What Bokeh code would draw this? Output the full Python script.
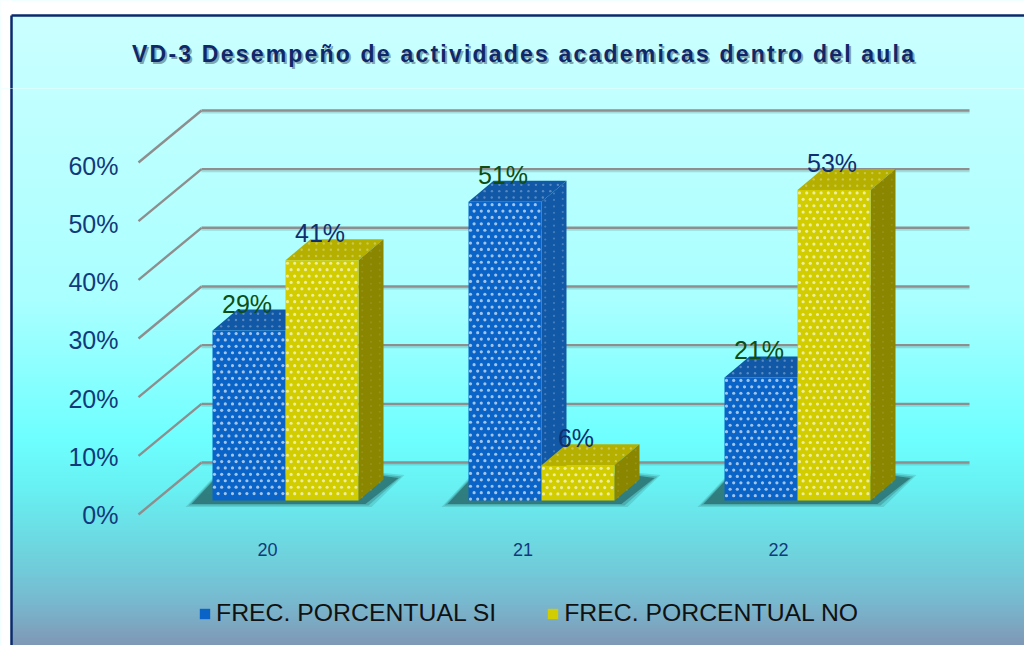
import numpy as np
from bokeh.plotting import figure
from bokeh.layouts import column
from bokeh.models import Range1d, LinearAxis, FixedTicker, Legend, LegendItem
from bokeh.core.properties import value
from bokeh.embed import file_html
from bokeh.resources import INLINE

categories = [20, 21, 22]
si_values = [29, 51, 21]
no_values = [41, 6, 53]
series_names = ["FREC. PORCENTUAL SI", "FREC. PORCENTUAL NO"]
axis_ticks = [0, 10, 20, 30, 40, 50, 60]
title_text = "VD-3 Desempeño de actividades academicas dentro del aula"

W, H = 1024, 645
TOP = 88
def X(px): return 20 + (np.asarray(px, float) - 285) / 256
def Y(py): return (500 - np.asarray(py, float)) / 5.86
def PX(x): return 285 + 256 * (np.asarray(x, float) - 20)
def PY(v): return 500 - 5.86 * np.asarray(v, float)

stops_y = [15, 300, 440, 490, 560, 600, 645]
stops_c = [(203, 255, 255), (170, 255, 255), (110, 255, 255), (104, 240, 242),
           (112, 208, 220), (120, 186, 208), (128, 152, 182)]
def color_at(y):
    return "#%02x%02x%02x" % tuple(int(np.interp(y, stops_y, [c[i] for c in stops_c])) for i in range(3))
def strips(y0, y1):
    ys = np.arange(y0, y1, 3)
    return ys, [color_at(y + 1.5) for y in ys]
SEAM = color_at(TOP)

# ---------- top band with the title ----------
t = figure(width=W, height=TOP, output_backend="svg", toolbar_location=None,
           x_range=Range1d(float(X(0)), float(X(W))), y_range=Range1d(float(Y(TOP)), float(Y(0))),
           min_border=0, outline_line_color=None, border_fill_color=SEAM,
           background_fill_color=SEAM, x_axis_type=None, y_axis_type=None,
           styles={"letter-spacing": "2.2px"})
t.grid.visible = False
ys, cols = strips(15, TOP)
t.quad(left=float(X(11)), right=float(X(W)), top=Y(ys), bottom=Y(ys + 4), fill_color=cols, line_color=None)
t.quad(left=float(X(-2)), right=float(X(W + 2)), top=float(Y(-2)), bottom=float(Y(15)), fill_color="white", line_color=None)
t.quad(left=float(X(-2)), right=float(X(11)), top=float(Y(-2)), bottom=float(Y(TOP + 2)), fill_color="white", line_color=None)
t.line(X([11, 11]), Y([15, TOP + 2]), line_color="#0a2a6c", line_width=2.5)
t.line(X([11, W]), Y([15, 15]), line_color="#0a2a6c", line_width=2.5)
for dx, dy, c, a in [(2, 2.5, "#5f8090", 0.7), (0, 0, "#10286a", 1.0)]:
    t.text([float(X(462 + dx))], [float(Y(53 + dy))], text=[title_text], text_color=c, text_alpha=a,
           text_font=value("Liberation Sans"), text_font_style="bold", text_font_size="23px",
           text_align="center", text_baseline="middle")

# ---------- main chart ----------
p = figure(width=W, height=H - TOP, output_backend="svg", toolbar_location=None,
           x_range=Range1d(float(X(0)), float(X(W))), y_range=Range1d(float(Y(H)), float(Y(TOP))),
           min_border=0, outline_line_color=None, background_fill_color=SEAM,
           border_fill_color=SEAM, x_axis_type=None, y_axis_type=None)
p.grid.visible = False
ys, cols = strips(TOP, H)
p.quad(left=float(X(11)), right=float(X(W)), top=Y(ys), bottom=Y(ys + 4), fill_color=cols, line_color=None)
p.quad(left=float(X(-2)), right=float(X(11)), top=float(Y(TOP - 2)), bottom=float(Y(H + 2)), fill_color="white", line_color=None)
p.line(X([11, 11]), Y([TOP - 2, H]), line_color="#0a2a6c", line_width=2.5)

# walls
SCALE = 5.867
tk = np.array(axis_ticks, float)
back = 462 - SCALE * tk
front = 514 - SCALE * tk
p.segment(X(201), Y(back + 2), X(969), Y(back + 2), line_color="#4a7a7a", line_alpha=0.25, line_width=2)
p.segment(X(201), Y(back), X(969), Y(back), line_color="#8e8e8e", line_width=2.4)
p.segment(X(138), Y(front), X(201), Y(back), line_color="#8e8e8e", line_width=2.4)

# bars
BW = 73 / 256
DX = 25 / 256
DY = 21 / 5.86
BLUE = ("#0a64c8", "#1158a6", "#1158a6")
YEL = ("#d2cd00", "#b5b000", "#8a8600")
xc = np.array(categories, float)

for grow, a in [(7, .14), (4, .22), (1, .42)]:
    for c in xc:
        l = float(PX(c)) - 73
        r = float(PX(c)) + 73
        p.patch(X([l - 20 - grow, r + 6 + grow, r + 39 + grow, r + 25, l + 5]),
                Y([503 + grow / 2, 503 + grow / 2, 478 - grow / 2, 476 - grow / 2, 476 - grow / 2]),
                fill_color="#0c3838", fill_alpha=a, line_color=None)

def dots(x0, x1, y0, y1, sx=7.2, sy=6.4):
    xs, yy = [], []
    for j, yv in enumerate(np.arange(y0 + 3, y1 - 1, sy)):
        for xv in np.arange(x0 + 2 + (j % 2) * sx / 2, x1 - 1, sx):
            xs.append(xv)
            yy.append(yv)
    return np.array(xs), np.array(yy)

legend_r = []
for k, (vals, col, off) in enumerate([(si_values, BLUE, -BW), (no_values, YEL, 0.0)]):
    l = xc + off
    r = l + BW
    v = np.array(vals, float)
    p.patches([[a, b, b + DX, a + DX] for a, b in zip(l, r)],
              [[h, h, h + DY, h + DY] for h in v],
              fill_color=col[1], line_color=None)
    p.patches([[b, b + DX, b + DX, b] for b in r],
              [[0, DY, h + DY, h] for h in v],
              fill_color=col[2], line_color=None)
    q = p.quad(left=l, right=r, top=v, bottom=0, fill_color=col[0], line_color=None)
    legend_r.append(q)
    ax, ay = [], []
    for a, b, h in zip(l, r, v):
        dx_, dy_ = dots(float(PX(a)), float(PX(b)), float(PY(h)), 500)
        ax.append(dx_)
        ay.append(dy_)
    p.scatter(X(np.concatenate(ax)), Y(np.concatenate(ay)), size=3.2, marker="circle",
              fill_color="white", fill_alpha=0.62, line_color=None)
    tx, ty = [], []
    for a, b, h in zip(l, r, v):
        for f in (0.2, 0.5, 0.8):
            for g in np.arange(0.05, 1, 0.1):
                tx.append(a + (b - a) * g + DX * f)
                ty.append(h + DY * f)
    p.scatter(tx, ty, size=2.4, marker="circle", fill_color="white", fill_alpha=0.3, line_color=None)
    sx, sy = [], []
    for b, h in zip(r, v):
        for f in (0.15, 0.5, 0.85):
            for g in np.arange(0, h, 1.1):
                sx.append(b + DX * f)
                sy.append(g + DY * f)
    p.scatter(sx, sy, size=2.2, marker="circle", fill_color="white", fill_alpha=0.22 if k == 0 else 0.1, line_color=None)

# value labels
lab_x = np.concatenate([xc - BW / 2, xc + BW / 2]) - 2 / 256
lab_v = np.array(si_values + no_values, float)
lab_t = ["%d%%" % a for a in lab_v]
lab_c = ["#0f4d14"] * 3 + ["#0f2f70"] * 3
p.text(lab_x, lab_v + 4.6, text=lab_t, text_color=lab_c, text_align="center", text_baseline="middle",
       text_font=value("Liberation Sans"), text_font_size="25px")

# axes
TICK_SCALE = 5.82
p.extra_y_ranges["tick"] = Range1d((514.5 - H) / TICK_SCALE, (514.5 - TOP) / TICK_SCALE)
p.extra_x_ranges["cat"] = Range1d(20 + (0 - 267) / 255.5, 20 + (W - 267) / 255.5)
ya = LinearAxis(y_range_name="tick", fixed_location=float(X(128)), ticker=FixedTicker(ticks=axis_ticks),
                major_label_overrides={h: "%d%%" % h for h in axis_ticks},
                axis_line_color=None, major_tick_line_color=None, minor_tick_line_color=None,
                major_label_text_font="Liberation Sans", major_label_text_font_size="25px",
                major_label_text_color="#123a7a", major_label_standoff=4)
p.add_layout(ya, "left")
xa = LinearAxis(x_range_name="cat", fixed_location=float(Y(534)), ticker=FixedTicker(ticks=categories),
                major_label_overrides={h: str(h) for h in categories},
                axis_line_color=None, major_tick_line_color=None, minor_tick_line_color=None,
                major_label_text_font="Liberation Sans", major_label_text_font_size="18px",
                major_label_text_color="#123a7a", major_label_standoff=2)
p.add_layout(xa, "below")

# legend
leg = Legend(items=[LegendItem(label=series_names[0], renderers=[legend_r[0]]),
                    LegendItem(label=series_names[1], renderers=[legend_r[1]])],
             orientation="horizontal", location=(198, H - 627),
             background_fill_alpha=0, border_line_color=None, glyph_width=13, glyph_height=13,
             label_standoff=5, spacing=50, padding=0, margin=8,
             label_text_font="Liberation Sans", label_text_font_size="24.8px", label_text_color="#111111",
             label_height=26)
p.add_layout(leg, "center")

page = column(t, p, spacing=0)
open("out.html", "w").write(file_html(page, INLINE))
